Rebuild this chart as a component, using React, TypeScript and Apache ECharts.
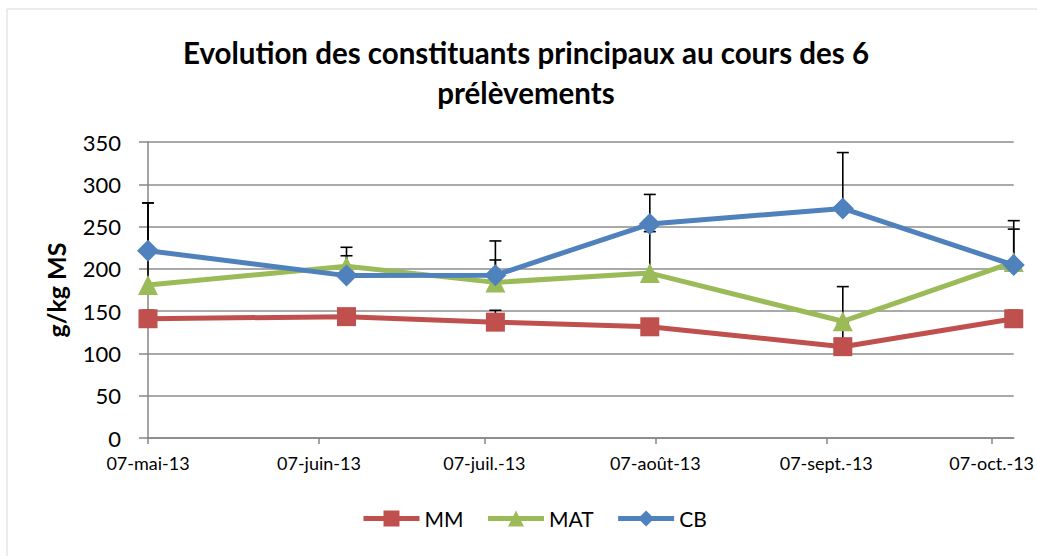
import React, { useEffect, useRef } from 'react';
import * as echarts from 'echarts';

const sampleDates = ['2013-05-07', '2013-06-12', '2013-07-09', '2013-08-06', '2013-09-10', '2013-10-11'];
const mmValues = [141, 143.5, 137, 131.5, 108, 141];
const matValues = [181, 203, 184, 195, 138, 208];
const cbValues = [221.5, 192, 192.5, 253, 271.5, 204.5];
const mmErrors = [10, 6, 14, 6, 28, 10];
const matErrors = [97, 22.5, 26.5, 49, 41, 49];
const cbErrors = [56.5, 23.5, 40.5, 35, 66, 42.5];
const tickDates = ['2013-05-07', '2013-06-07', '2013-07-07', '2013-08-07', '2013-09-07', '2013-10-07'];
const tickLabels = ['07-mai-13', '07-juin-13', '07-juil.-13', '07-août-13', '07-sept.-13', '07-oct.-13'];
const seriesNames = ['MM', 'MAT', 'CB'];
const colors = ['#C0504D', '#9BBB59', '#4F81BD'];
const symbols = ['rect', 'triangle', 'diamond'];
const symbolSizes = [19, 20, 22];
const titleLines = ['Evolution des constituants principaux au cours des 6', 'prélèvements'];
const yName = 'g/kg MS';

// day number (UTC) of a YYYY-MM-DD date, counted from the first sample date
function dayOf(s: string): number {
  const [y, m, d] = s.split('-').map(Number);
  return Math.round(Date.UTC(y, m - 1, d) / 86400000);
}

export default function App() {
  const ref = useRef<HTMLDivElement>(null);
  useEffect(() => {
    if (!ref.current) return;
    const chart = echarts.init(ref.current, null, { renderer: 'svg' });
    const base = dayOf(sampleDates[0]);
    const xs = sampleDates.map((s) => dayOf(s) - base);
    const ticks = tickDates.map((s) => dayOf(s) - base);
    const values = [mmValues, matValues, cbValues];
    const errors = [mmErrors, matErrors, cbErrors];
    const errData: number[][] = [];
    values.forEach((vals, si) => {
      vals.forEach((v, i) => {
        errData.push([xs[i], v, v + errors[si][i]]);
      });
    });
    const font = 'Lato, "Noto Sans", sans-serif';
    chart.setOption({
      animation: false,
      backgroundColor: '#fff',
      textStyle: { fontFamily: font },
      graphic: [
        { type: 'rect', shape: { x: 7, y: 9, width: 1200, height: 700 }, style: { fill: 'none', stroke: '#d9d9d9', lineWidth: 1 }, z: -10 },
        { type: 'text', x: 526, y: 52, style: { text: titleLines[0], font: 'bold 29.5px ' + font, fill: '#000', textAlign: 'center', textVerticalAlign: 'middle' } },
        { type: 'text', x: 526, y: 92, style: { text: titleLines[1], font: 'bold 29.5px ' + font, fill: '#000', textAlign: 'center', textVerticalAlign: 'middle' } },
      ],
      grid: { left: 148, right: 23, top: 142, bottom: 118, containLabel: false },
      legend: {
        data: seriesNames,
        top: 503,
        left: 356,
        itemWidth: 56,
        itemHeight: 20,
        itemGap: 22,
        lineStyle: { width: 5 },
        textStyle: { fontSize: 21, color: '#000', fontFamily: font },
      },
      xAxis: {
        type: 'value',
        min: xs[0],
        max: xs[xs.length - 1],
        axisLine: { show: true, onZero: false, lineStyle: { color: '#868686', width: 1.5 } },
        axisTick: { show: true, length: 6, customValues: ticks, lineStyle: { color: '#868686', width: 1.5 } },
        axisLabel: {
          customValues: ticks,
          fontSize: 18,
          color: '#000',
          margin: 16,
          fontFamily: font,
          formatter: (v: number) => {
            const idx = ticks.indexOf(v);
            return idx >= 0 ? tickLabels[idx] : '';
          },
        },
        splitLine: { show: false },
      },
      yAxis: {
        type: 'value',
        min: 0,
        max: 350,
        interval: 50,
        name: yName,
        nameLocation: 'middle',
        nameGap: 80,
        nameRotate: 90,
        nameTextStyle: { fontSize: 25, fontWeight: 'bold', color: '#000', fontFamily: font },
        axisLine: { show: true, lineStyle: { color: '#868686', width: 1.5 } },
        axisTick: { show: true, length: 9, lineStyle: { color: '#868686', width: 1.5 } },
        axisLabel: { fontSize: 22, color: '#000', margin: 27, fontFamily: font },
        splitLine: { show: true, lineStyle: { color: '#8c8c8c', width: 1.5 } },
      },
      series: [
        {
          type: 'custom',
          name: 'err',
          z: 1,
          silent: true,
          encode: { x: 0, y: [1, 2] },
          data: errData,
          renderItem: (params: any, api: any) => {
            const x = api.value(0);
            const lo = api.value(1);
            const hi = api.value(2);
            const p0 = api.coord([x, lo]);
            const p1 = api.coord([x, hi]);
            const w = 6;
            return {
              type: 'group',
              children: [
                { type: 'line', shape: { x1: p0[0], y1: p0[1], x2: p1[0], y2: p1[1] }, style: { stroke: '#000', lineWidth: 1.6 } },
                { type: 'line', shape: { x1: p1[0] - w, y1: p1[1], x2: p1[0] + w, y2: p1[1] }, style: { stroke: '#000', lineWidth: 1.6 } },
              ],
            };
          },
        },
        ...seriesNames.map((name, si) => ({
          type: 'line',
          name,
          z: 3 + si,
          data: xs.map((x, i) => [x, values[si][i]]),
          symbol: symbols[si],
          symbolSize: symbolSizes[si],
          showAllSymbol: true,
          lineStyle: { color: colors[si], width: 5 },
          itemStyle: { color: colors[si] },
        })),
      ],
    });
    return () => chart.dispose();
  }, []);
  return <div ref={ref} style={{ position: 'absolute', left: 0, top: 0, width: 1037, height: 556 }} />;
}
